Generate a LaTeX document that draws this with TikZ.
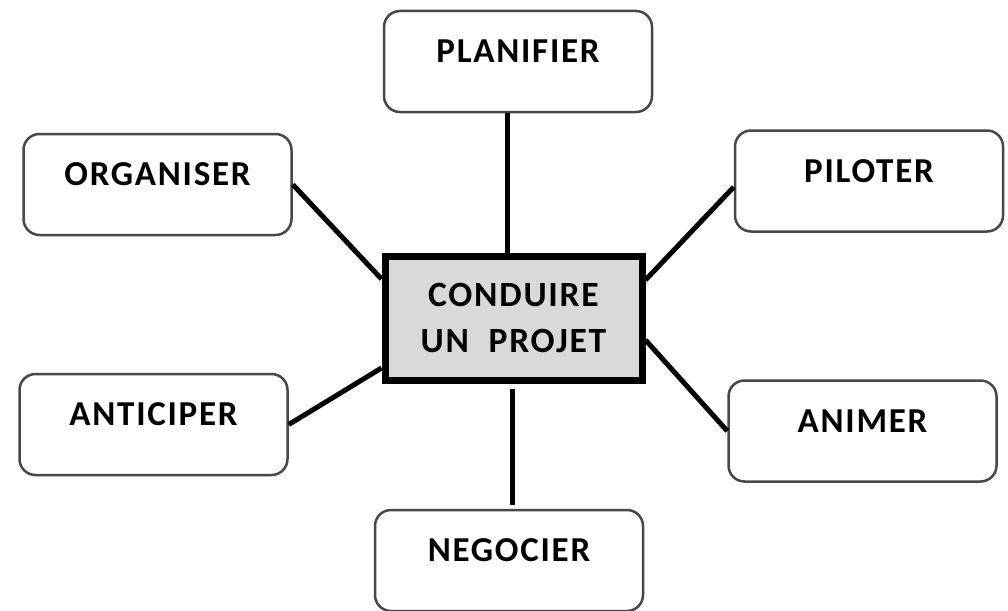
\documentclass[tikz,border=0pt]{standalone}
\usepackage{fontspec}
\setmainfont{Carlito}[LetterSpace=5]
\usetikzlibrary{calc}

% text of a task box sits in the upper half of the box
\newcommand{\tasklabel}[1]{\raisebox{-1pt}[0pt][0pt]{#1}}

\tikzset{
  taskbox/.style={draw=black!72, line width=2.5pt, rounded corners=16pt,
    fill=white, minimum width=268pt, minimum height=101pt, inner sep=0pt,
    font=\fontsize{35}{40}\selectfont\bfseries},
  corebox/.style={draw=black, line width=7pt, fill=black!15,
    minimum width=257pt, minimum height=124pt, inner sep=0pt, align=center,
    font=\fontsize{35.5}{46}\selectfont\bfseries},
  link/.style={draw=black, line width=5pt}
}

\begin{document}
\begin{tikzpicture}[x=1pt,y=-1pt]
  \useasboundingbox (0,0) rectangle (1008,610);
  \clip (0,0) rectangle (1008,610);

  % central activity
  \node[corebox] (core) at (513.5,318) {CONDUIRE\\UN\ \ PROJET};

  % surrounding tasks
  \node[taskbox] (pla) at (518,61.5)   {\tasklabel{PLANIFIER}};
  \node[taskbox] (org) at (157.5,184.5) {\tasklabel{ORGANISER}};
  \node[taskbox] (pil) at (869,181)    {\tasklabel{PILOTER}};
  \node[taskbox] (ant) at (153.5,424.5) {\tasklabel{ANTICIPER}};
  \node[taskbox] (ani) at (862.5,431)  {\tasklabel{ANIMER}};
  \node[taskbox] (neg) at (509,560.5)  {\tasklabel{NEGOCIER}};

  % connectors
  \draw[link] ([xshift=-11pt]pla.south) -- ([xshift=-11pt]pla.south |- core.north);
  \draw[link] (org.east) -- ([yshift=39pt]core.west);
  \draw[link] ([yshift=-6pt]pil.west) -- ([yshift=38pt]core.east);
  \draw[link] (ant.east) -- ([yshift=-50pt]core.west);
  \draw[link] (ani.west) -- ([yshift=-22pt]core.east);
  \draw[link] ([xshift=3pt,yshift=-5pt]neg.north |- core.south) -- ([xshift=3pt,yshift=4pt]neg.north);
\end{tikzpicture}
\end{document}
